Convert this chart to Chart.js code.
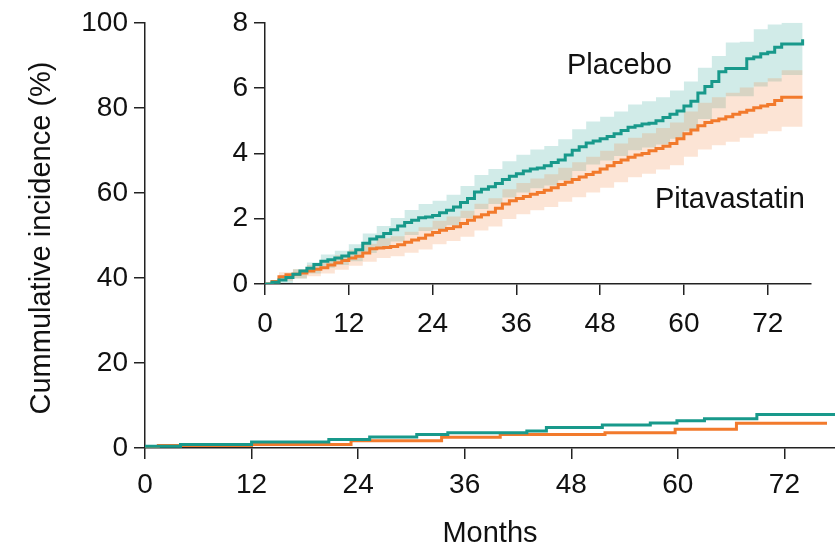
<!DOCTYPE html>
<html lang="en">

<head>
    <meta charset="UTF-8">
    <title>Cumulative incidence</title>
    <script src="https://cdn.jsdelivr.net/npm/chart.js"></script>
    <style>
        body { margin: 0; background: #fff; }
        #wrap { position: relative; width: 835px; height: 551px; }
        #mainChart { position: absolute; left: 0; top: 0; }
        #insetChart { position: absolute; left: 190px; top: 0; }
    </style>
</head>

<body>
    <div id="wrap">
        <canvas id="mainChart" width="835" height="551"></canvas>
        <canvas id="insetChart" width="645" height="345"></canvas>
    </div>

    <script>
        // tick labels
        const monthTicks = [0, 12, 24, 36, 48, 60, 72];
        const mainYTicks = [0, 20, 40, 60, 80, 100];
        const insetYTicks = [0, 2, 4, 6, 8];

        // main panel (0-100 %), coarse steps
        const mainPlaceboMonths = [0, 4, 12, 20.7, 25.3, 30.6, 34.1, 43, 45.2, 51.5, 56.9, 59.9, 63, 68.9, 78];
        const mainPlaceboValues = [0.4, 0.8, 1.4, 2.0, 2.6, 3.2, 3.6, 4.0, 4.8, 5.4, 5.9, 6.4, 6.9, 7.9, 7.9];
        const mainPitaMonths = [0, 1.5, 12, 23.2, 33.4, 40, 51.8, 59.7, 66.6, 76.8];
        const mainPitaValues = [0.2, 0.6, 0.8, 1.7, 2.5, 3.2, 3.6, 4.4, 5.8, 5.8];

        // inset (0-8 %), monthly readings
        const insetMonths = [0, 1, 2, 3, 4, 5, 6, 7, 8, 9, 10, 11, 12, 13, 14, 15, 16, 17, 18, 19,
            20, 21, 22, 23, 24, 25, 26, 27, 28, 29, 30, 31, 32, 33, 34, 35, 36, 37, 38, 39,
            40, 41, 42, 43, 44, 45, 46, 47, 48, 49, 50, 51, 52, 53, 54, 55, 56, 57, 58, 59,
            60, 61, 62, 63, 64, 65, 66, 67, 68, 69, 70, 71, 72, 73, 74, 75, 76, 77];
        const placebo = [0, 0.05, 0.12, 0.2, 0.3, 0.4, 0.48, 0.6, 0.7, 0.74, 0.8, 0.86, 0.95, 1.05, 1.25, 1.38, 1.45, 1.55, 1.66, 1.78,
            1.88, 1.95, 2.03, 2.05, 2.1, 2.18, 2.26, 2.36, 2.5, 2.62, 2.82, 2.9, 2.98, 3.08, 3.2, 3.3, 3.38, 3.46, 3.52, 3.55,
            3.62, 3.72, 3.8, 3.95, 4.1, 4.2, 4.32, 4.38, 4.45, 4.52, 4.6, 4.7, 4.8, 4.85, 4.9, 4.92, 5.0, 5.1, 5.2, 5.3,
            5.45, 5.6, 5.85, 6.05, 6.2, 6.5, 6.6, 6.6, 6.6, 6.9, 6.95, 7.05, 7.1, 7.25, 7.35, 7.35, 7.35, 7.5];
        const pitavastatin = [0, 0.08, 0.22, 0.28, 0.3, 0.34, 0.4, 0.45, 0.5, 0.58, 0.65, 0.72, 0.8, 0.85, 0.95, 1.08, 1.1, 1.12, 1.15, 1.2,
            1.28, 1.35, 1.4, 1.5, 1.58, 1.65, 1.7, 1.75, 1.85, 1.95, 2.05, 2.12, 2.2, 2.32, 2.45, 2.55, 2.62, 2.68, 2.75, 2.8,
            2.87, 2.95, 3.05, 3.12, 3.2, 3.28, 3.35, 3.42, 3.52, 3.62, 3.72, 3.8, 3.88, 3.95, 4.0, 4.08, 4.15, 4.22, 4.3, 4.45,
            4.6, 4.72, 4.85, 4.95, 5.0, 5.05, 5.12, 5.2, 5.26, 5.32, 5.4, 5.45, 5.5, 5.62, 5.72, 5.72, 5.72, 5.72];

        // confidence bands, every 2 months
        const bandMonths = [0, 2, 4, 6, 8, 10, 12, 14, 16, 18, 20, 22, 24, 26, 28, 30, 32, 34, 36, 38,
            40, 42, 44, 46, 48, 50, 52, 54, 56, 58, 60, 62, 64, 66, 68, 70, 72, 74, 76, 77];
        const placeboUpper = [0.02, 0.25, 0.45, 0.66, 0.9, 1.02, 1.22, 1.55, 1.78, 2.02, 2.27, 2.45, 2.55, 2.73, 3.0, 3.34, 3.52, 3.76, 3.96, 4.12,
            4.23, 4.43, 4.74, 4.98, 5.12, 5.28, 5.5, 5.6, 5.72, 5.93, 6.2, 6.62, 6.98, 7.4, 7.42, 7.8, 7.95, 8.15, 8.15, 8.2];
        const placeboLower = [0, 0.03, 0.17, 0.32, 0.5, 0.58, 0.7, 0.95, 1.12, 1.3, 1.5, 1.62, 1.67, 1.8, 2.02, 2.3, 2.45, 2.65, 2.8, 2.93,
            3.02, 3.18, 3.46, 3.66, 3.78, 3.92, 4.1, 4.18, 4.27, 4.45, 4.68, 5.05, 5.38, 5.75, 5.75, 6.05, 6.2, 6.4, 6.4, 6.5];
        const pitaUpper = [0.02, 0.36, 0.45, 0.58, 0.7, 0.88, 1.05, 1.23, 1.4, 1.46, 1.6, 1.74, 1.94, 2.07, 2.24, 2.46, 2.63, 2.9, 3.09, 3.23,
            3.36, 3.56, 3.73, 3.9, 4.08, 4.3, 4.48, 4.62, 4.78, 4.95, 5.28, 5.55, 5.72, 5.86, 6.02, 6.18, 6.3, 6.55, 6.55, 6.6];
        const pitaLower = [0, 0.1, 0.17, 0.24, 0.32, 0.44, 0.56, 0.68, 0.8, 0.85, 0.96, 1.06, 1.22, 1.32, 1.45, 1.64, 1.76, 1.99, 2.14, 2.26,
            2.36, 2.52, 2.66, 2.8, 2.95, 3.12, 3.27, 3.38, 3.51, 3.64, 3.9, 4.12, 4.25, 4.36, 4.48, 4.6, 4.68, 4.82, 4.82, 4.8];

        const teal = '#18998b';
        const orange = '#f27a2c';
        const axisColor = '#222';
        const fontFamily = '"Liberation Sans", Arial, sans-serif';

        Chart.defaults.font.family = fontFamily;
        Chart.defaults.color = '#111';

        function pts(xs, ys) {
            return xs.map((x, i) => ({ x: x, y: ys[i] }));
        }

        function stepLine(data, color) {
            return {
                data: data, stepped: true, borderColor: color, borderWidth: 3,
                pointRadius: 0, fill: false, order: 0
            };
        }

        function band(data, color, fill) {
            return {
                data: data, stepped: true, borderWidth: 0, borderColor: 'transparent',
                backgroundColor: color, pointRadius: 0, fill: fill, order: 1
            };
        }

        function axis(min, max, ticks, fit, pad) {
            return {
                type: 'linear', min: min, max: max,
                afterBuildTicks: s => { s.ticks = ticks.map(v => ({ value: v })); },
                afterFit: fit,
                ticks: { font: { size: 28 }, color: '#111', padding: pad },
                grid: { drawOnChartArea: false, drawTicks: true, tickLength: 11, color: axisColor, lineWidth: 1.5 },
                border: { display: true, color: axisColor, width: 1.5 }
            };
        }

        // axis titles drawn at fixed spots
        const titlesPlugin = {
            id: 'titles',
            afterDraw(chart) {
                const ctx = chart.ctx;
                ctx.save();
                ctx.fillStyle = '#111';
                ctx.font = '29px ' + fontFamily;
                ctx.textAlign = 'center';
                ctx.textBaseline = 'alphabetic';
                ctx.fillText('Months', 490, 542);
                ctx.translate(42, 238);
                ctx.rotate(-Math.PI / 2);
                ctx.textBaseline = 'middle';
                ctx.fillText('Cummulative incidence (%)', 0, 0);
                ctx.restore();
            }
        };

        const groupLabels = {
            id: 'groupLabels',
            afterDraw(chart) {
                const ctx = chart.ctx;
                ctx.save();
                ctx.fillStyle = '#111';
                ctx.font = '29px ' + fontFamily;
                ctx.textAlign = 'left';
                ctx.textBaseline = 'alphabetic';
                ctx.fillText('Placebo', 377, 74);
                ctx.fillText('Pitavastatin', 465, 208);
                ctx.restore();
            }
        };

        new Chart(document.getElementById('mainChart'), {
            type: 'line',
            data: {
                datasets: [
                    stepLine(pts(mainPlaceboMonths, mainPlaceboValues), teal),
                    stepLine(pts(mainPitaMonths, mainPitaValues), orange)
                ]
            },
            options: {
                responsive: false, animation: false, devicePixelRatio: 1,
                layout: { padding: { left: 0, top: 0, right: 0, bottom: 0 } },
                plugins: { legend: { display: false }, tooltip: { enabled: false } },
                scales: {
                    x: axis(0, 77.7, monthTicks, s => { s.height = 103; }, 9),
                    y: axis(0, 100, mainYTicks, s => { s.width = 145; }, 6)
                }
            },
            plugins: [titlesPlugin]
        });

        new Chart(document.getElementById('insetChart'), {
            type: 'line',
            data: {
                datasets: [
                    stepLine(pts(insetMonths, placebo), teal),
                    stepLine(pts(insetMonths, pitavastatin), orange),
                    band(pts(bandMonths, pitaUpper), 'rgba(242,122,44,0.2)', '+1'),
                    band(pts(bandMonths, pitaLower), 'transparent', false),
                    band(pts(bandMonths, placeboUpper), 'rgba(24,153,139,0.2)', '+1'),
                    band(pts(bandMonths, placeboLower), 'transparent', false)
                ]
            },
            options: {
                responsive: false, animation: false, devicePixelRatio: 1,
                layout: { padding: { left: 0, top: 8, right: 24, bottom: 0 } },
                plugins: { legend: { display: false }, tooltip: { enabled: false } },
                scales: {
                    x: axis(0, 78.2, monthTicks, s => { s.height = 61; }, 12),
                    y: axis(0, 8, insetYTicks, s => { s.width = 75; }, 6)
                }
            },
            plugins: [groupLabels]
        });
    </script>
</body>

</html>
